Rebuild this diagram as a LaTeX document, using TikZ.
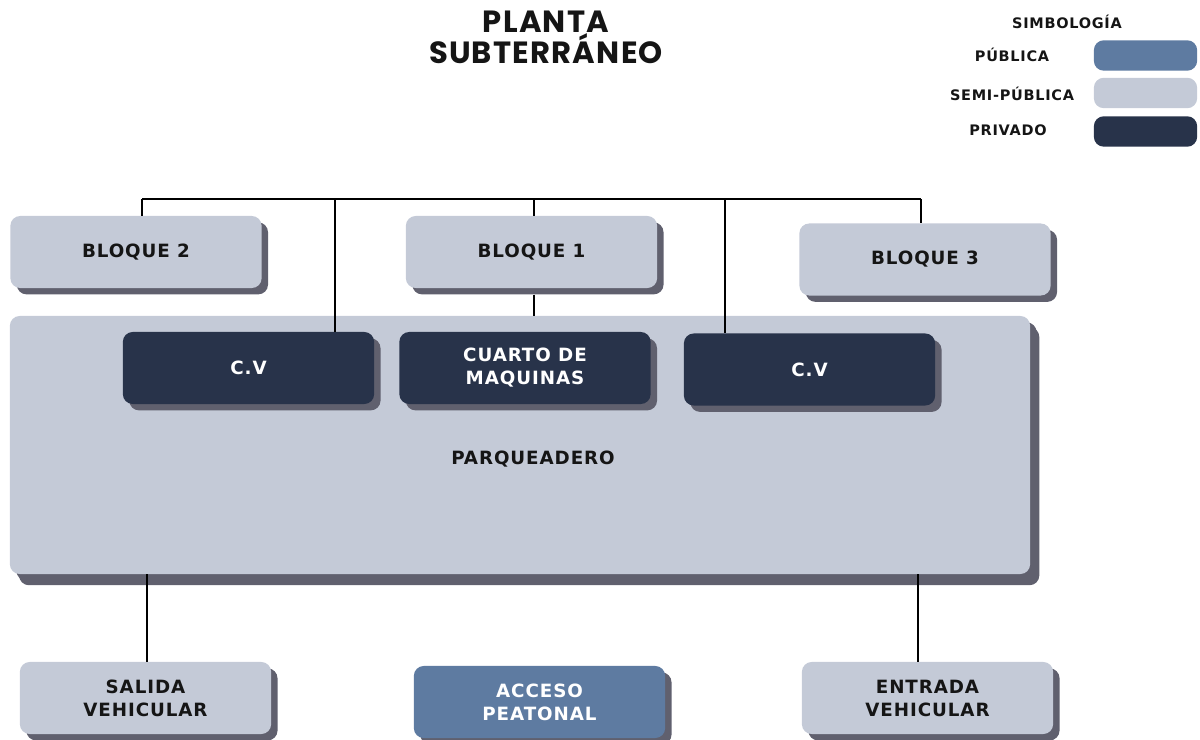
\documentclass[tikz,border=0pt]{standalone}
\usepackage{fontspec}
\setmainfont{DejaVu Sans}[LetterSpace=5]
\newfontfamily\titlefont{Poppins}[LetterSpace=4]
\usepackage{tikz}
\usetikzlibrary{shadows}
\definecolor{publica}{HTML}{5E7BA1}
\definecolor{semi}{HTML}{C4CAD7}
\definecolor{privado}{HTML}{28334A}
\definecolor{sombra}{HTML}{60606E}
\definecolor{tinta}{HTML}{151515}
\tikzset{
	zona/.style={rounded corners=7pt,inner sep=0pt,minimum width=6.28cm,minimum height=1.8cm,align=center,
		font=\bfseries\fontsize{13}{16.3}\selectfont,
		drop shadow={shadow xshift=0.16cm,shadow yshift=-0.16cm,fill=sombra,opacity=1}},
	semizona/.style={zona,fill=semi,text=tinta},
	privzona/.style={zona,fill=privado,text=white},
	pubzona/.style={zona,fill=publica,text=white},
	clave/.style={rounded corners=7pt,inner sep=0pt,minimum width=2.58cm,minimum height=0.76cm},
	rotulo/.style={font=\bfseries\fontsize{10.3}{12}\selectfont,text=tinta},
	enlace/.style={line width=1pt,black}
}
\begin{document}
\begin{tikzpicture}[x=0.025cm,y=-0.025cm]
	\useasboundingbox (0,0) rectangle (1200,740);
	
	%TITLE
	\node[align=center,text=tinta,font=\titlefont\bfseries\fontsize{21.8}{22.5}\selectfont] (titulo) at (546,37.5) {PLANTA\\SUBTERRÁNEO};
	
	%LEGEND
	\node[rotulo] (simbologia) at (1067,22) {SIMBOLOGÍA};
	\node[rotulo] (tpub) at (1012,55) {PÚBLICA};
	\node[rotulo] (tsemi) at (1012,94) {SEMI-PÚBLICA};
	\node[rotulo] (tpriv) at (1008,130) {PRIVADO};
	\node[clave,fill=publica] (kpub) at (1145.5,55.5) {};
	\node[clave,fill=semi] (ksemi) at (1145.5,93) {};
	\node[clave,fill=privado] (kpriv) at (1145.5,131.5) {};
	
	%PARKING
	\node[semizona,minimum width=25.5cm,minimum height=6.45cm,
		drop shadow={shadow xshift=0.23cm,shadow yshift=-0.28cm,fill=sombra,opacity=1}] (parq) at (520,445) {};
	\node[font=\bfseries\fontsize{13}{16}\selectfont,text=tinta] (tparq) at (533,459) {PARQUEADERO};
	
	%BLOCKS
	\node[semizona] (b2) at (136,252) {BLOQUE 2};
	\node[semizona] (b1) at (531.5,252) {BLOQUE 1};
	\node[semizona] (b3) at (925,259.5) {BLOQUE 3};
	
	\node[privzona] (cv1) at (248.5,368) {C.V};
	\node[privzona] (cm) at (525,368) {CUARTO DE\\MAQUINAS};
	\node[privzona] (cv2) at (809.5,369.5) {C.V};
	
	\node[semizona] (sal) at (145.5,698) {SALIDA\\VEHICULAR};
	\node[pubzona] (acc) at (539.5,702) {ACCESO\\PEATONAL};
	\node[semizona] (ent) at (927.5,698) {ENTRADA\\VEHICULAR};
	
	%LINES
	\coordinate (t2) at (142,199);
	\coordinate (t4) at (335,199);
	\coordinate (t1) at (534,199);
	\coordinate (t5) at (725,199);
	\coordinate (t3) at (921,199);
	\coordinate (s1) at (147,600);
	\coordinate (s2) at (918,600);
	\draw[enlace] (t2) -- (t3);
	\draw[enlace] (t2) -- (t2 |- b2.north);
	\draw[enlace] (t4) -- (t4 |- cv1.north);
	\draw[enlace] (t1) -- (t1 |- b1.north);
	\draw[enlace] ([yshift=-0.16cm]t1 |- b1.south) -- (t1 |- parq.north);
	\draw[enlace] (t5) -- (t5 |- cv2.north);
	\draw[enlace] (t3) -- (t3 |- b3.north);
	\draw[enlace] (s1 |- parq.south) -- (s1 |- sal.north);
	\draw[enlace] (s2 |- parq.south) -- (s2 |- ent.north);
\end{tikzpicture}
\end{document}
